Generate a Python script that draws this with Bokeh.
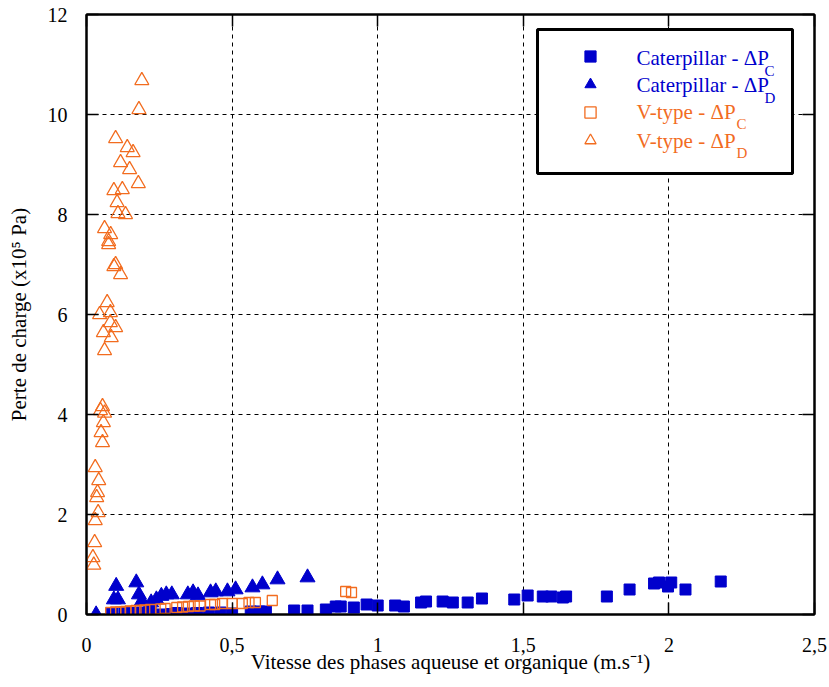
from bokeh.plotting import figure
from bokeh.models import (FixedTicker, CustomJSTickFormatter, LinearAxis, Legend, LegendItem,
                          BoxAnnotation, Range1d)
from bokeh.core.properties import value
from bokeh.embed import file_html
from bokeh.resources import INLINE

# ---------------- data ----------------
cat_c_x = [0.088, 0.13, 0.15, 0.17, 0.19, 0.22, 0.26, 0.29, 0.31, 0.35, 0.38, 0.42, 0.46, 0.50,
           0.564, 0.593, 0.616, 0.713, 0.759, 0.822, 0.856, 0.873, 0.918, 0.962, 1.0, 1.06, 1.09,
           1.149, 1.166, 1.223, 1.258, 1.309, 1.358, 1.469, 1.515, 1.567, 1.596, 1.636, 1.647,
           1.787, 1.865, 1.949, 1.966, 1.997, 2.008, 2.057, 2.178]
cat_c_y = [0.02, 0.04, 0.03, 0.02, 0.04, 0.05, 0.00, 0.01, 0.03, 0.02, 0.03, 0.04, 0.04, 0.02,
           0.06, 0.06, 0.06, 0.08, 0.08, 0.10, 0.16, 0.16, 0.14, 0.20, 0.18, 0.18, 0.16,
           0.24, 0.26, 0.26, 0.24, 0.24, 0.32, 0.30, 0.38, 0.36, 0.36, 0.34, 0.36,
           0.36, 0.50, 0.62, 0.64, 0.56, 0.64, 0.50, 0.66]

cat_d_x = [0.033, 0.094, 0.102, 0.108, 0.171, 0.18, 0.19, 0.222, 0.24, 0.257, 0.274, 0.293,
           0.348, 0.366, 0.383, 0.426, 0.444, 0.484, 0.512, 0.57, 0.604, 0.656, 0.759]
cat_d_y = [0.00, 0.30, 0.57, 0.30, 0.64, 0.40, 0.27, 0.24, 0.30, 0.37, 0.40, 0.40,
           0.40, 0.44, 0.38, 0.44, 0.46, 0.46, 0.50, 0.54, 0.60, 0.70, 0.74]

v_c_x = [0.083, 0.10, 0.117, 0.135, 0.15, 0.17, 0.186, 0.20, 0.22, 0.255, 0.27, 0.31, 0.33,
         0.35, 0.37, 0.39, 0.426, 0.44, 0.467, 0.50, 0.535, 0.558, 0.58, 0.638, 0.89, 0.91]
v_c_y = [0.04, 0.05, 0.05, 0.06, 0.07, 0.08, 0.08, 0.09, 0.10, 0.11, 0.12, 0.14, 0.15,
         0.16, 0.17, 0.17, 0.20, 0.20, 0.22, 0.22, 0.22, 0.24, 0.24, 0.28, 0.46, 0.44]

v_d_x = [0.19, 0.18, 0.10, 0.14, 0.16, 0.117, 0.148, 0.178, 0.094, 0.123, 0.105, 0.108, 0.134,
         0.062, 0.083, 0.076, 0.076, 0.10, 0.094, 0.117, 0.071, 0.045, 0.082, 0.082, 0.10,
         0.058, 0.085, 0.062, 0.055, 0.048, 0.062, 0.058, 0.050, 0.055, 0.030, 0.042, 0.038,
         0.035, 0.040, 0.030, 0.028, 0.022, 0.025]
v_d_y = [10.68, 10.10, 9.52, 9.34, 9.24, 9.04, 8.90, 8.62, 8.48, 8.50, 8.24, 8.02, 8.00,
         7.72, 7.60, 7.46, 7.40, 7.00, 6.96, 6.80, 6.24, 6.00, 6.04, 5.84, 5.74,
         5.64, 5.54, 5.28, 4.16, 4.08, 4.03, 3.84, 3.64, 3.44, 2.94, 2.68, 2.44,
         2.34, 2.04, 1.88, 1.44, 1.14, 0.99]

x_ticks = [0, 0.5, 1, 1.5, 2, 2.5]
y_ticks = [0, 2, 4, 6, 8, 10, 12]
legend_texts = ["Caterpillar - \u0394P", "Caterpillar - \u0394P", "V-type - \u0394P", "V-type - \u0394P"]
legend_subs = ["C", "D", "C", "D"]

BLUE = "#0000cc"
ORANGE = "#f26c1f"
FONT = "Liberation Serif"

W, H = 829, 687
BL, BR, BT, BB = 86, 15, 14, 73
XMAX, YMAX = 2.5, 12

p = figure(width=W, height=H, output_backend="svg", toolbar_location=None,
           x_range=Range1d(0, XMAX), y_range=Range1d(0, YMAX),
           min_border_left=BL, min_border_right=BR, min_border_top=BT, min_border_bottom=BB,
           background_fill_color="white", border_fill_color="white")
p.outline_line_color = "black"
p.outline_line_width = 2

# helpers to place legend decoration given page pixel positions
def px2x(px):
    return (px - BL) * XMAX / (W - BL - BR)

def py2y(py):
    return (H - BB - py) * YMAX / (H - BB - BT)

r1 = p.scatter(cat_c_x, cat_c_y, marker="square", size=11, fill_color=BLUE, line_color=BLUE)
r2 = p.scatter(cat_d_x, cat_d_y, marker="triangle", size=15, fill_color=BLUE, line_color=BLUE)
r3 = p.scatter(v_c_x, v_c_y, marker="square", size=10, fill_color=None, line_color=ORANGE, line_width=1.3)
r4 = p.scatter(v_d_x, v_d_y, marker="triangle", size=14, fill_color=None, line_color=ORANGE, line_width=1.3)

fmt = CustomJSTickFormatter(code="return tick.toString().replace('.', ',');")

for ax in p.xaxis:
    ax.ticker = FixedTicker(ticks=x_ticks)
    ax.formatter = fmt
    ax.axis_label = "Vitesse des phases aqueuse et organique (m.s\u207b\u00b9)"
for ax in p.yaxis:
    ax.ticker = FixedTicker(ticks=y_ticks)
    ax.axis_label = "Perte de charge (x10\u2075 Pa)"

for ax in p.xaxis + p.yaxis:
    ax.major_label_text_font = FONT
    ax.major_label_text_font_size = "20px"
    ax.major_label_text_color = "black"
    ax.axis_label_text_font = FONT
    ax.axis_label_text_font_size = "21px"
    ax.axis_label_text_font_style = "normal"
    ax.axis_label_text_color = "black"
    ax.major_tick_in = 12
    ax.major_tick_out = 0
    ax.major_tick_line_width = 1.5
    ax.minor_tick_line_color = None
    ax.axis_line_width = 2
    ax.axis_line_color = "black"
p.xaxis.major_label_standoff = 23
p.yaxis.major_label_standoff = 19
p.xaxis.axis_label_standoff = -5
p.yaxis.axis_label_standoff = 14

top = LinearAxis(ticker=FixedTicker(ticks=x_ticks), major_label_text_font_size="0px",
                 major_tick_in=12, major_tick_out=0, major_tick_line_width=1.5,
                 minor_tick_line_color=None, axis_line_width=2, major_label_standoff=0)
right = LinearAxis(ticker=FixedTicker(ticks=y_ticks), major_label_text_font_size="0px",
                   major_tick_in=12, major_tick_out=0, major_tick_line_width=1.5,
                   minor_tick_line_color=None, axis_line_width=2, major_label_standoff=0)
p.add_layout(top, "above")
p.add_layout(right, "right")

p.xgrid.ticker = FixedTicker(ticks=[0.5, 1, 1.5, 2])
p.ygrid.ticker = FixedTicker(ticks=[2, 4, 6, 8, 10])
for g in (p.xgrid, p.ygrid):
    g.grid_line_color = "black"
    g.grid_line_dash = "4 4"
    g.grid_line_width = 1

# legend frame
box = BoxAnnotation(left=px2x(537), right=px2x(792), top=py2y(29), bottom=py2y(173),
                    fill_color="white", fill_alpha=1, line_color="black", line_width=3,
                    line_alpha=1)
p.add_layout(box)

# legend markers
legend = Legend(items=[LegendItem(label=" ", renderers=[r]) for r in (r1, r2, r3, r4)],
                location=(490, 460), padding=0, margin=0, spacing=0,
                glyph_height=28, glyph_width=28, label_standoff=0, label_width=20,
                label_height=20, label_text_font_size="4px",
                border_line_alpha=0, background_fill_alpha=0)
p.add_layout(legend, "center")

# legend texts
text_colors = [BLUE, BLUE, ORANGE, ORANGE]
base_py = [57, 84, 111, 140]
sub_py = [70, 97, 123, 152]
sub_px = [764, 764, 736, 736]
p.text(x=[px2x(636)] * 4, y=[py2y(v) for v in base_py], text=legend_texts,
       text_color=text_colors, text_font=value(FONT), text_font_size=value("21px"),
       text_baseline="alphabetic", text_align="left", level="overlay")
p.text(x=[px2x(v) for v in sub_px], y=[py2y(v) for v in sub_py], text=legend_subs,
       text_color=text_colors, text_font=value(FONT), text_font_size=value("15px"),
       text_baseline="alphabetic", text_align="left", level="overlay")

open("out.html", "w").write(file_html(p, INLINE))
